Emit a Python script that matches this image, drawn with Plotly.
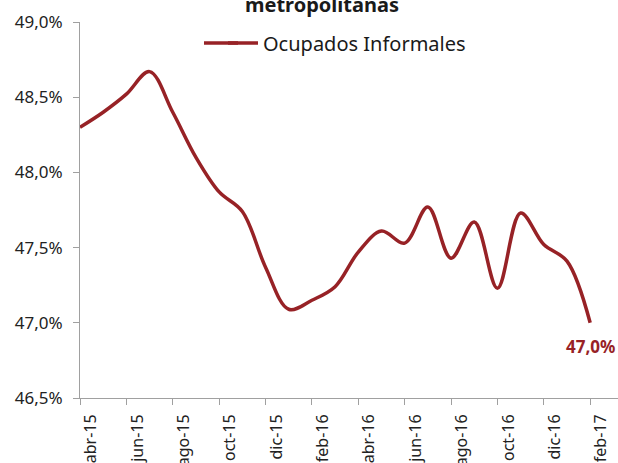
import plotly.graph_objects as go

months = ["abr-15", "may-15", "jun-15", "jul-15", "ago-15", "sep-15", "oct-15", "nov-15",
          "dic-15", "ene-16", "feb-16", "mar-16", "abr-16", "may-16", "jun-16", "jul-16",
          "ago-16", "sep-16", "oct-16", "nov-16", "dic-16", "ene-17", "feb-17"]
informales = [48.30, 48.40, 48.52, 48.67, 48.40, 48.10, 47.87, 47.74,
              47.37, 47.09, 47.15, 47.24, 47.47, 47.61, 47.53, 47.77,
              47.43, 47.67, 47.23, 47.73, 47.52, 47.41, 47.00]
y_ticks = [46.5, 47.0, 47.5, 48.0, 48.5, 49.0]
y_tick_labels = ["46,5%", "47,0%", "47,5%", "48,0%", "48,5%", "49,0%"]
x_tick_idx = list(range(0, len(months), 2))
x_tick_labels = [months[i] for i in x_tick_idx]
last_label = "47,0%"
title_text = "metropolitanas"

red = "#972226"
font = "Noto Sans"

W, H = 618, 463
ML, MR, MT, MB = 80, 0, 22, 65
PW, PH = W - ML - MR, H - MT - MB


def px_x(x):
    return (x - ML) / PW


def px_y(y):
    return 1 - (y - MT) / PH


fig = go.Figure()
fig.add_trace(go.Scatter(
    x=list(range(len(months))), y=informales, mode="lines",
    line=dict(color=red, width=3.5, shape="spline", smoothing=1.0),
    name="Ocupados Informales",
))

fig.add_annotation(x=len(months) - 1, y=informales[-1], text="<b>" + last_label + "</b>",
                   showarrow=False, xanchor="center", yanchor="middle", yshift=-24,
                   font=dict(family=font, size=17, color=red))
fig.add_annotation(x=px_x(322), y=px_y(4), xref="paper", yref="paper",
                   text="<b>" + title_text + "</b>", showarrow=False,
                   xanchor="center", yanchor="middle",
                   font=dict(family=font, size=20, color="#1a1a1a"))

# extend the legend line sample to the reference's longer swatch
fig.add_shape(type="line", xref="paper", yref="paper",
              x0=px_x(204), x1=px_x(238), y0=px_y(43), y1=px_y(43),
              line=dict(color=red, width=3.5))

fig.update_layout(
    width=W, height=H,
    margin=dict(l=ML, r=MR, t=MT, b=MB, autoexpand=False),
    paper_bgcolor="white", plot_bgcolor="white",
    font=dict(family=font, color="#222222"),
    showlegend=True,
    legend=dict(x=px_x(223), y=px_y(43), xanchor="left", yanchor="middle",
                font=dict(family=font, size=20, color="#1a1a1a"),
                bgcolor="rgba(0,0,0,0)"),
)
fig.update_xaxes(
    range=[0, 23.2], showgrid=False, zeroline=False, automargin=False,
    tickmode="array", tickvals=x_tick_idx, ticktext=x_tick_labels,
    tickangle=-90, ticks="outside", ticklen=6, tickcolor="#a0a0a0",
    ticklabelshift=11, ticklabelstandoff=3,
    showline=True, linecolor="#a0a0a0", linewidth=1,
    tickfont=dict(family=font, size=16, color="#222222"),
)
fig.update_yaxes(
    range=[46.5, 49.0], showgrid=False, zeroline=False, automargin=False,
    tickmode="array", tickvals=y_ticks, ticktext=y_tick_labels,
    ticks="outside", ticklen=6, tickcolor="#a0a0a0", ticklabelstandoff=7,
    showline=True, linecolor="#a0a0a0", linewidth=1,
    tickfont=dict(family=font, size=17, color="#222222"),
)

fig.write_html("out.html", config={"displayModeBar": False},
               post_script="document.body.style.margin='0px';")
